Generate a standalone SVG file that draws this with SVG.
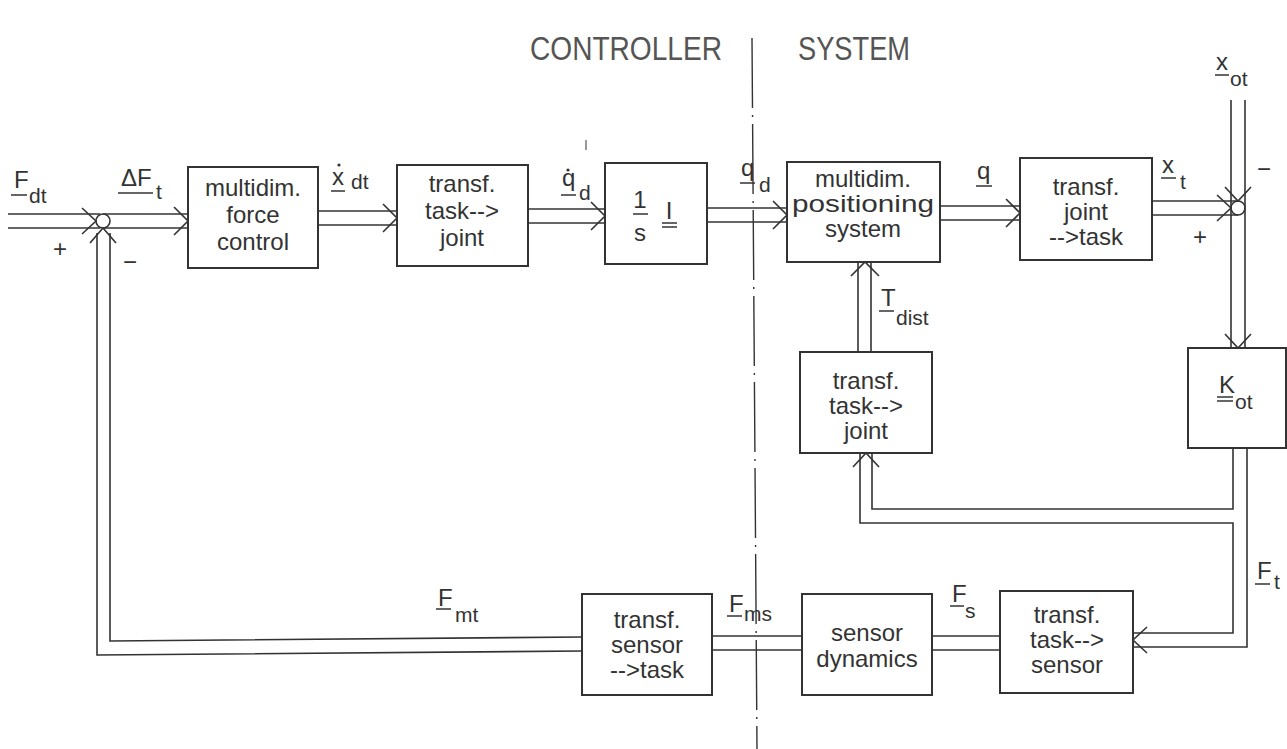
<svg xmlns="http://www.w3.org/2000/svg" width="1287" height="749" viewBox="0 0 1287 749">
<style>
.blk{fill:none;stroke:#333;stroke-width:2}
.ln{fill:none;stroke:#333;stroke-width:1.6}
.t{font-family:"Liberation Sans",Arial,sans-serif;font-size:24px;fill:#333;text-anchor:middle}
.lb{font-family:"Liberation Sans",Arial,sans-serif;font-size:24px;fill:#333}
.sb{font-size:21px}
.hd{font-family:"Liberation Sans",Arial,sans-serif;font-size:33px;fill:#555}
.ul{stroke:#333;stroke-width:1.5}
.sg{font-family:"Liberation Sans",Arial,sans-serif;font-size:24px;fill:#333;text-anchor:middle}
</style>
<rect width="1287" height="749" fill="#fff"/>

<g id="divider">
<line x1="752" y1="38" x2="757" y2="749" stroke="#333" stroke-width="1.4" stroke-dasharray="70 7 2 7"/>
<line x1="586" y1="140" x2="586" y2="150" stroke="#555" stroke-width="1.2"/>
<text class="hd" x="530" y="60" textLength="192" lengthAdjust="spacingAndGlyphs">CONTROLLER</text>
<text class="hd" x="798" y="60" textLength="112" lengthAdjust="spacingAndGlyphs">SYSTEM</text>
</g>

<g id="connectors">
<polyline class="ln" points="8,214 100,214"/>
<polyline class="ln" points="8,228 100,228"/>
<polyline class="ln" points="82,208 96,221 82,234"/>
<circle class="ln" cx="103" cy="221" r="7"/>
<polyline class="ln" points="103,214 188,214"/>
<polyline class="ln" points="103,228 188,228"/>
<polyline class="ln" points="174,207 188,221 174,235"/>
<polyline class="ln" points="318,211 397,211"/>
<polyline class="ln" points="318,225 397,225"/>
<polyline class="ln" points="383,204 397,218 383,232"/>
<polyline class="ln" points="528,209 605,209"/>
<polyline class="ln" points="528,223 605,223"/>
<polyline class="ln" points="591,202 605,216 591,230"/>
<polyline class="ln" points="707,208 787,208"/>
<polyline class="ln" points="707,222 787,222"/>
<polyline class="ln" points="773,201 787,215 773,229"/>
<polyline class="ln" points="940,206 1020,206"/>
<polyline class="ln" points="940,220 1020,220"/>
<polyline class="ln" points="1006,199 1020,213 1006,227"/>
<polyline class="ln" points="1152,201 1238,201"/>
<polyline class="ln" points="1152,215 1238,215"/>
<polyline class="ln" points="1217,195 1231,208 1217,221"/>
<circle class="ln" cx="1238" cy="208" r="7"/>
<polyline class="ln" points="1231,100 1231,208"/>
<polyline class="ln" points="1245,100 1245,208"/>
<polyline class="ln" points="1225,187 1238,201 1251,187"/>
<polyline class="ln" points="1231,208 1231,348"/>
<polyline class="ln" points="1245,208 1245,348"/>
<polyline class="ln" points="1225,334 1238,348 1251,334"/>
<polyline class="ln" points="858,352 858,262"/>
<polyline class="ln" points="871,352 871,262"/>
<polyline class="ln" points="851,276 865,262 879,276"/>
<polyline class="ln" points="872,453 872,509 1233,509 1233,448"/>
<polyline class="ln" points="860,453 860,523 1233,523 1233,633 1133,633"/>
<polyline class="ln" points="1247,448 1247,647 1133,647"/>
<polyline class="ln" points="853,467 866,453 879,467"/>
<polyline class="ln" points="1147,627 1133,640 1147,653"/>
<polyline class="ln" points="932,636 1000,636"/>
<polyline class="ln" points="932,650 1000,650"/>
<polyline class="ln" points="712,636 802,636"/>
<polyline class="ln" points="712,650 802,650"/>
<polyline class="ln" points="582,637 110,641 110,233"/>
<polyline class="ln" points="582,651 97,655 97,233"/>
<polyline class="ln" points="90,243 103,228 116,243"/>
</g>

<g id="labels">
<text class="lb" x="14" y="188">F</text>
<line class="ul" x1="11" y1="195" x2="27" y2="195"/>
<text class="lb sb" x="29" y="203">dt</text>
<text class="lb" x="121" y="186">ΔF</text>
<line class="ul" x1="118" y1="193" x2="153" y2="193"/>
<text class="lb sb" x="156" y="199">t</text>
<text class="lb" x="332" y="185">x</text>
<circle cx="339" cy="165" r="1.6" fill="#333"/>
<line class="ul" x1="331" y1="191" x2="345" y2="191"/>
<text class="lb sb" x="351" y="189">dt</text>
<text class="lb" x="562" y="186">q</text>
<circle cx="568" cy="170" r="1.6" fill="#333"/>
<line class="ul" x1="561" y1="195" x2="576" y2="195"/>
<text class="lb sb" x="579" y="200">d</text>
<text class="lb" x="741" y="176">q</text>
<line class="ul" x1="740" y1="183" x2="755" y2="183"/>
<text class="lb sb" x="759" y="192">d</text>
<text class="lb" x="977" y="179">q</text>
<line class="ul" x1="976" y1="186" x2="992" y2="186"/>
<text class="lb" x="1162" y="173">x</text>
<line class="ul" x1="1161" y1="178" x2="1176" y2="178"/>
<text class="lb sb" x="1180" y="189">t</text>
<text class="lb" x="1216" y="70">x</text>
<line class="ul" x1="1215" y1="75" x2="1229" y2="75"/>
<text class="lb sb" x="1230" y="86">ot</text>
<text class="lb" x="881" y="306">T</text>
<line class="ul" x1="879" y1="311" x2="894" y2="311"/>
<text class="lb sb" x="896" y="325">dist</text>
<text class="lb" x="1257" y="579">F</text>
<line class="ul" x1="1255" y1="584" x2="1270" y2="584"/>
<text class="lb sb" x="1274" y="589">t</text>
<text class="lb" x="952" y="602">F</text>
<line class="ul" x1="950" y1="606" x2="964" y2="606"/>
<text class="lb sb" x="965" y="618">s</text>
<text class="lb" x="729" y="612">F</text>
<line class="ul" x1="727" y1="616" x2="742" y2="616"/>
<text class="lb sb" x="744" y="621">ms</text>
<text class="lb" x="438" y="606">F</text>
<line class="ul" x1="436" y1="609" x2="451" y2="609"/>
<text class="lb sb" x="455" y="622">mt</text>
<text class="sg" x="60" y="257">+</text>
<text class="sg" x="130" y="270">−</text>
<text class="sg" x="1264" y="177">−</text>
<text class="sg" x="1200" y="245">+</text>
</g>

<g id="force-control">
<rect class="blk" x="188" y="167" width="130" height="101"/>
<text class="t" x="253" y="196">multidim.</text>
<text class="t" x="253" y="223">force</text>
<text class="t" x="253" y="250">control</text>
</g>
<g id="task-to-joint-1">
<rect class="blk" x="397" y="165" width="131" height="101"/>
<text class="t" x="462" y="192">transf.</text>
<text class="t" x="462" y="219">task--&gt;</text>
<text class="t" x="462" y="246">joint</text>
</g>
<g id="integrator">
<rect class="blk" x="605" y="163" width="102" height="101"/>
<text class="t" x="640" y="208">1</text>
<line class="ul" x1="633" y1="214" x2="648" y2="214"/>
<text class="t" x="640" y="241">s</text>
<text class="t" x="669" y="219">I</text>
<line class="ul" x1="662" y1="223" x2="677" y2="223"/>
<line class="ul" x1="662" y1="227" x2="677" y2="227"/>
</g>
<g id="positioning-system">
<rect class="blk" x="787" y="162" width="153" height="100"/>
<text class="t" x="863" y="187">multidim.</text>
<text class="t" x="863" y="212" textLength="142" lengthAdjust="spacingAndGlyphs">positioning</text>
<text class="t" x="863" y="237">system</text>
</g>
<g id="joint-to-task">
<rect class="blk" x="1020" y="158" width="132" height="102"/>
<text class="t" x="1086" y="195">transf.</text>
<text class="t" x="1086" y="220">joint</text>
<text class="t" x="1086" y="245">--&gt;task</text>
</g>
<g id="task-to-joint-2">
<rect class="blk" x="800" y="352" width="132" height="101"/>
<text class="t" x="866" y="389">transf.</text>
<text class="t" x="866" y="414">task--&gt;</text>
<text class="t" x="866" y="439">joint</text>
</g>
<g id="K-ot">
<rect class="blk" x="1188" y="348" width="98" height="100"/>
<text class="lb" x="1219" y="393">K</text>
<line class="ul" x1="1217" y1="397" x2="1233" y2="397"/>
<line class="ul" x1="1217" y1="401" x2="1233" y2="401"/>
<text class="lb sb" x="1235" y="409">ot</text>
</g>
<g id="task-to-sensor">
<rect class="blk" x="1000" y="591" width="133" height="102"/>
<text class="t" x="1067" y="623">transf.</text>
<text class="t" x="1067" y="648">task--&gt;</text>
<text class="t" x="1067" y="673">sensor</text>
</g>
<g id="sensor-dynamics">
<rect class="blk" x="802" y="594" width="130" height="101"/>
<text class="t" x="867" y="641">sensor</text>
<text class="t" x="867" y="667">dynamics</text>
</g>
<g id="sensor-to-task">
<rect class="blk" x="582" y="594" width="130" height="101"/>
<text class="t" x="647" y="628">transf.</text>
<text class="t" x="647" y="653">sensor</text>
<text class="t" x="647" y="678">--&gt;task</text>
</g>
</svg>
